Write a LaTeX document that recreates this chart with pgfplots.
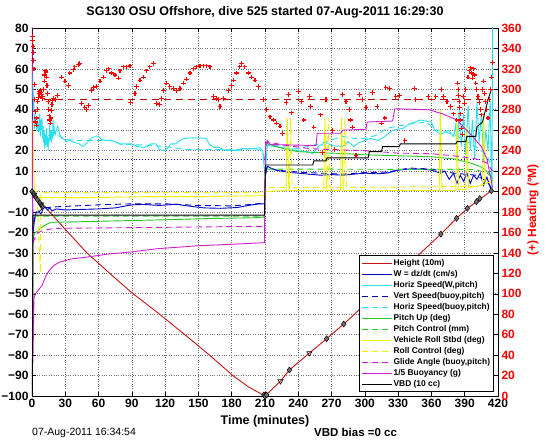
\documentclass[border=0pt]{standalone}
\usepackage{fontspec}
\setmainfont{Liberation Sans}
\usepackage{pgfplots}
\pgfplotsset{compat=1.18}
\definecolor{hred}{RGB}{200,20,20}
\definecolor{dred}{RGB}{185,0,0}
\definecolor{mblue}{RGB}{0,0,200}
\definecolor{mcyan}{RGB}{40,225,240}
\definecolor{mgreen}{RGB}{40,200,40}
\definecolor{myellow}{RGB}{240,240,0}
\definecolor{mmag}{RGB}{210,30,210}
\begin{document}
\begin{tikzpicture}
\useasboundingbox (-32pt,-46pt) rectangle (514pt,396pt);
\begin{axis}[
  at={(0pt,0pt)}, anchor=south west, scale only axis, width=466pt, height=368pt,
  xmin=0, xmax=420, ymin=-100, ymax=80,
  xtick={0,30,...,420},
  ytick={-100,-90,...,80},
  yticklabels={−100,−90,−80,−70,−60,−50,−40,−30,−20,−10,0,10,20,30,40,50,60,70,80},
  ytick pos=left, xtick pos=both,
  tick align=inside, major tick length=4pt,
  tick style={black, line width=0.5pt},
  grid=major, major grid style={black!55, dotted, line width=0.6pt},
  axis line style={black, line width=0.5pt},
  tick label style={font=\fontsize{12}{14}\selectfont\bfseries},
  /pgf/number format/assume math mode=true,
  every axis plot/.append style={line width=0.9pt},
  legend cell align=left,
  legend style={at={(0.991,0.011)}, anchor=south east, draw=black, fill=white, line width=0.5pt,
    font=\fontsize{8.4}{10}\selectfont\bfseries, inner sep=2pt, row sep=0pt,
    nodes={inner sep=1.5pt, text height=6.2pt, text depth=1.8pt}},
  legend image code/.code={\draw[#1] (0pt,0pt) -- (30pt,0pt);},
]
\addplot[mblue, dotted, line width=0.8pt, forget plot] coordinates {(0,15.8)(420,15.8)};
% Height
\addplot[hred] coordinates {(0,0)(5,-3.5)(10,-6.8)(16,-10)(30,-18.5)(49.5,-30)(70,-40)(90,-49.5)(115,-60)(140,-71)(160,-80)(181,-90)(195,-95.5)(210,-100)(224,-92.7)(232,-87.3)(250,-79)(265.5,-72)(281,-64.8)(300,-55.3)(320,-45.3)(340,-35.3)(368.5,-20.8)(382.6,-13.1)(392.5,-8.2)(400.6,-5)(414,0.4)};
\addlegendentry{Height (10m)}
% W
\addplot[mblue] coordinates {(0.5,0)(1,-20)(2,-15)(3,-12)(4,-10)(6,-9.5)(8,-11)(10,-8.5)(12,-7.5)(14,-9)(16,-8)(18,-9.5)(22,-8.5)(30,-9)(40,-8.8)(60,-8.5)(75,-8)(85,-7)(90,-6.5)(100,-6.3)(115,-6.8)(130,-6.2)(140,-7)(155,-8)(170,-8.2)(185,-7.8)(195,-6.8)(205,-6)(209.5,-6)(210.5,8)(212,12.5)(215,11.5)(220,10.5)(230,9.5)(240,9)(250,8.5)(260,8)(270,8.3)(280,8)(290,8.5)(300,9)(310,8.7)(320,9)(330,10.5)(340,11)(350,11)(360,10.5)(368,9)(372,10)(376,6)(380,9)(383,4)(386,8)(389,5)(392,9)(395,4)(398,8)(401,6)(404,9)(407,3)(410,7)(413,2)(415,0)};
\addlegendentry{W = dz/dt (cm/s)}
% Horiz speed (W,pitch)
\addplot[mcyan] coordinates {(0,62)(0.4,45)(0.8,57)(1.2,40)(1.6,48)(2,30)(2.5,38)(3,33)(3.5,36)(4,31)(5,34)(6,29)(7,38)(7.5,27)(8,35)(8.5,30)(9,36)(9.5,26)(10,32)(10.5,24)(11,30)(11.5,21)(12,28)(12.5,23)(13,31)(13.5,22)(14,27)(14.5,20)(15,26)(15.5,24)(16,33)(16.5,25)(17,30)(17.5,24)(18,29)(18.5,26)(19,35)(19.5,27)(20,31)(21,28)(22,30)(23,32)(24,31)(25,28)(27,26)(29,25.5)(31,24.5)(34,25)(38,24)(42,23.5)(46,22)(50,24)(53,26)(56,26.8)(60,26.8)(63,25.5)(67,25)(72,25)(76,24)(80,23.3)(90,23.3)(95,22)(100,21.6)(104,22)(107,23.3)(112,23.3)(115,20.5)(119,20)(122,21)(125,23.3)(130,23.3)(133,25)(137,26)(142,26.2)(150,26.3)(157,26)(160,23)(164,21.6)(169,21.6)(172,20.5)(180,20)(187,20)(190,21)(200,21)(205,21.5)(208,20)(209,13)(210,9)(211,15)(212,22.5)(220,22)(230,21)(240,20)(248,19.5)(253,18.5)(258,22)(265,24)(270,22.5)(280,22)(285,24.5)(290,22)(295,24)(305,26)(312,25)(318,27)(325,30)(335,31)(340,33)(350,35)(360,34)(363,30)(368,28)(375,30)(380,27)(382,33)(383,15)(385,40)(387,22)(389,38)(391,18)(393,42)(395,20)(397,35)(399,16)(401,44)(403,24)(405,38)(407,15)(409,30)(411,20)(413,45)(414,10)(414.6,0)(415.2,85)};
\addlegendentry{Horiz Speed(W,pitch)}
% Vert speed (buoy,pitch)
\addplot[mblue, dash pattern=on 6pt off 4pt] coordinates {(1,-15)(3,-12)(6,-10)(10,-8)(20,-7.5)(40,-7)(60,-6.5)(90,-6)(120,-6)(150,-6.8)(180,-7)(200,-6.2)(209.5,-5.5)(210.5,9)(212,12)(220,10.5)(240,9.5)(260,9)(280,8.5)(300,9.3)(320,9.5)(340,11.5)(360,11)(380,9)(400,8)(410,5)(415,1)};
\addlegendentry{Vert Speed(buoy,pitch)}
% Horiz speed (buoy,pitch)
\addplot[mcyan, dash pattern=on 6pt off 4pt] coordinates {(1,42)(2,36)(3,34)(5,31)(7,30)(10,28)(13,26)(16,28)(20,28)(25,27)(30,25.5)(40,25)(60,25)(73,24.8)(80,23)(100,22.8)(120,22)(140,20.5)(160,20.5)(180,20.5)(200,21)(208,20)(209.5,15)(211,20)(213,23)(240,21)(260,23.5)(280,27)(290,26)(300,26)(310,27.5)(320,31)(330,32)(340,33)(355,34)(365,30)(380,28)(390,25)(400,22)(410,18)(415,10)};
\addlegendentry{Horiz Speed(buoy,pitch)}
% Pitch up
\addplot[mgreen] coordinates {(0.5,-76)(1.2,-22)(3,-20)(6,-19)(10,-17)(15,-15.5)(20,-15)(40,-14.8)(80,-14.3)(120,-13.8)(160,-13.2)(200,-12.8)(209.5,-12.5)(210.5,22)(212,23.5)(220,22)(230,20.5)(240,19.5)(260,19)(280,18.6)(300,18)(330,17.5)(360,17)(380,16)(395,14)(405,12)(412,9)(415,5)};
\addlegendentry{Pitch Up (deg)}
% Pitch control
\addplot[mgreen, dash pattern=on 6pt off 4pt] coordinates {(0.3,-100)(1,-12)(209.5,-12)(210.5,11)(400,10.8)(410,9)(415,7)};
\addlegendentry{Pitch Control (mm)}
% Roll
\addplot[myellow] coordinates {(0,0)(0.8,35)(1.5,10)(2.5,-1)(4,-3)(50,-3)(100,-2.5)(150,-2.5)(209.5,-2)(210.5,0)(229,0.5)(230,36)(231.5,0.5)(263,0.5)(264,36)(265.5,0.5)(278,0.5)(279,36)(280.5,0.5)(367,0.5)(368,40)(369.5,0.5)(382,0.5)(383,35)(384.5,1)(391,1)(392,32)(393.5,2)(406,3)(407,38)(408.5,4)(415,5)};
\addlegendentry{Vehicle Roll Stbd (deg)}
% Roll control
\addplot[myellow, dash pattern=on 6pt off 4pt] coordinates {(0,0)(4.5,0)(7.5,-40)(8,-0.5)(209.5,-0.5)(210.5,2)(232,2)(233,36)(234.5,2)(266,2)(267,36)(268.5,2)(281,2)(282,36)(283.5,2)(400,2.5)(410,4)(415,5)};
\addlegendentry{Roll Control (deg)}
% Glide angle
\addplot[mmag, dash pattern=on 6pt off 4pt] coordinates {(1,-25)(3,-22)(6,-20)(10,-19)(20,-18)(60,-17.8)(120,-17.5)(200,-17)(209.5,-17)(210.5,24)(215,24)(230,22.5)(250,21)(270,20.5)(300,20)(330,18.8)(360,18.5)(380,17.5)(400,16)(410,14)(415,10)};
\addlegendentry{Glide Angle (buoy,pitch)}
% Buoyancy
\addplot[mmag] coordinates {(0,85)(0.8,-84)(1.8,-52)(3,-50)(6,-48)(9,-46)(12,-42)(15,-39)(20,-36)(25,-34.5)(35,-33)(50,-32)(70,-30.5)(90,-29.5)(112,-28)(150,-26.5)(180,-25.8)(209.5,-25)(210.5,22)(212,25)(215,23)(256,22.5)(257,28.5)(278,28.5)(280,30)(301,30.5)(302,34)(325,34.5)(327,40.5)(358,40)(370,38)(383,35)(390,31)(397,27)(405,22)(410,16)(413,8)(415,2)};
\addlegendentry{1/5 Buoyancy (g)}
% VBD
\addplot[black] coordinates {(0.3,-100)(0.8,-11.5)(209.5,-11.5)(210.5,13)(253,13)(254,15)(265,15)(266,16.5)(303,16.5)(304,19.5)(315,19.5)(316,22)(331,22)(332,23.3)(382,23.3)(383,24.4)(391,24.4)(392,27)(400,27)(401,31.7)(406,34)(411,44.8)(414,50)};
\addlegendentry{VBD (10 cc)}
% markers on height
\addplot[black, only marks, mark=diamond*, mark size=3pt, mark options={draw=black, fill=black!55, line width=0.5pt}, forget plot] coordinates {(0,0)(1.5,-1)(3,-2.5)(5,-4)(7,-5.5)(9,-7)(209,-99.5)(210,-100)(211.5,-99.5)(232,-87.3)(265.5,-72)(281,-64.8)(368.5,-20.8)(382.6,-13.1)(392.5,-8.2)(400.6,-5)(403.6,-3.4)(414,0.4)};
\addplot[black, only marks, mark=triangle, mark size=3pt, mark options={draw=black, rotate=180, line width=0.6pt}, forget plot] coordinates {(2,-1.5)(8,-6.3)(224,-92.7)(250,-79)};
\end{axis}
\begin{axis}[
  at={(0pt,0pt)}, anchor=south west, scale only axis, width=466pt, height=368pt,
  xmin=0, xmax=420, ymin=0, ymax=360,
  axis x line=none, axis y line*=right,
  ytick={0,20,...,360},
  tick align=inside, major tick length=4pt,
  tick style={black, line width=0.5pt},
  axis line style={black, line width=0.5pt},
  yticklabel style={font=\fontsize{12}{14}\selectfont\bfseries, text=red},
  /pgf/number format/assume math mode=true,
]
\addplot[draw=dred, line width=1.2pt, dash pattern=on 7pt off 5pt] coordinates {(0,290)(408,290)};
\addplot[draw=red, only marks, mark=+, mark size=2.3pt, mark options={draw=red, solid, line width=1.1pt}] coordinates {(0.3,352)(0.6,348)(0.9,342)(1.2,336)(1.5,328)(1.8,320)(2.2,305)(2.6,290)(3.0,278)(3.4,268)(3.8,265)(4.3,272)(4.8,280)(5.3,288)(5.8,292)(6.3,296)(6.8,298)(7.3,299)(7.8,297)(8.3,295)(8.8,293)(9.3,291)(9.8,293)(10.5,300)(11,308)(11.5,314)(12,318)(12.5,317)(13,312)(13.5,304)(14,296)(14.5,288)(15,280)(15.5,274)(16,270)(16.5,267)(17,272)(17.5,279)(18,285)(18.5,289)(19.5,291)(21,290)(23,294)(26.7,312)(29.7,308)(32.7,304)(34.2,316)(37.2,319)(38.7,322)(41.8,324)(43.2,325)(44.7,286)(47.7,282)(49.2,280)(50.7,284)(53.7,299)(55.2,302)(58.2,303)(61.3,308)(64.3,312)(67.3,318)(68.8,320)(71.8,316)(74.8,314)(77.8,311)(79.3,318)(82.3,322)(85.3,322)(88.3,323)(88.9,287)(92.8,296)(94.3,303)(97.3,309)(100.3,312)(103.3,318)(106.3,322)(109.3,325)(112.3,286)(114.7,285)(116.8,291)(118.3,299)(121.3,306)(124.3,303)(127.3,301)(130.4,299)(133.4,301)(136.4,306)(139.4,310)(142.4,316)(145.4,320)(148.4,322)(151.4,323)(154.4,323)(157.4,323)(160.4,322)(163.4,293)(166.4,291)(168,290)(169.4,283)(172.4,291)(177,299)(180,304)(181.4,309)(184.4,316)(187.4,322)(188.9,325)(191.9,322)(194.9,316)(197.9,312)(201,309)(204,303)(208.5,290)(211.5,280)(214.5,273)(217.5,270)(220.5,267)(223.5,264)(226,257)(229,287)(231,295)(234,277)(240,298)(243,288)(245,270)(250,293)(251,283)(254,263)(260,275)(262,238)(265,290)(271,260)(273,241)(280,295)(283,288)(286,280)(287,270)(289,263)(292,235)(295,295)(298,290)(301,282)(307,297)(311,283)(315,267)(318,272)(319,302)(322,301)(328,293)(331,294)(336,250)(345,301)(346,290)(357,293)(364,293)(369,300)(371,293)(374,288)(377,283)(380,276)(383,270)(383.5,306)(384,300)(384.5,294)(385,288)(385.5,282)(386,276)(386.5,270)(387,262)(388,256)(389,293)(390,286)(391,300)(393,312)(394,318)(395,321)(396,316)(397,311)(398,320)(399,314)(400,306)(401,300)(402,293)(403,287)(404,280)(405,275)(406,300)(407,308)(408,296)(409,288)(410,280)(411,272)(412,290)(413,300)(414,312)(415,326)};
\end{axis}
\node[font=\fontsize{12.5}{14}\selectfont\bfseries] at (233pt,384pt) {SG130 OSU Offshore, dive 525 started 07-Aug-2011 16:29:30};
\node[font=\fontsize{12.5}{14}\selectfont\bfseries] at (233pt,-25pt) {Time (minutes)};
\node[font=\fontsize{10.5}{12}\selectfont, anchor=west, inner sep=0pt] at (0pt,-37pt) {07-Aug-2011 16:34:54};
\node[font=\fontsize{11.5}{13}\selectfont\bfseries, anchor=west, inner sep=0pt] at (282pt,-36pt) {VBD bias =0 cc};
\node[font=\fontsize{12}{14}\selectfont\bfseries, text=red, rotate=90] at (501pt,186pt) {(+) Heading (°M)};
\end{tikzpicture}
\end{document}
